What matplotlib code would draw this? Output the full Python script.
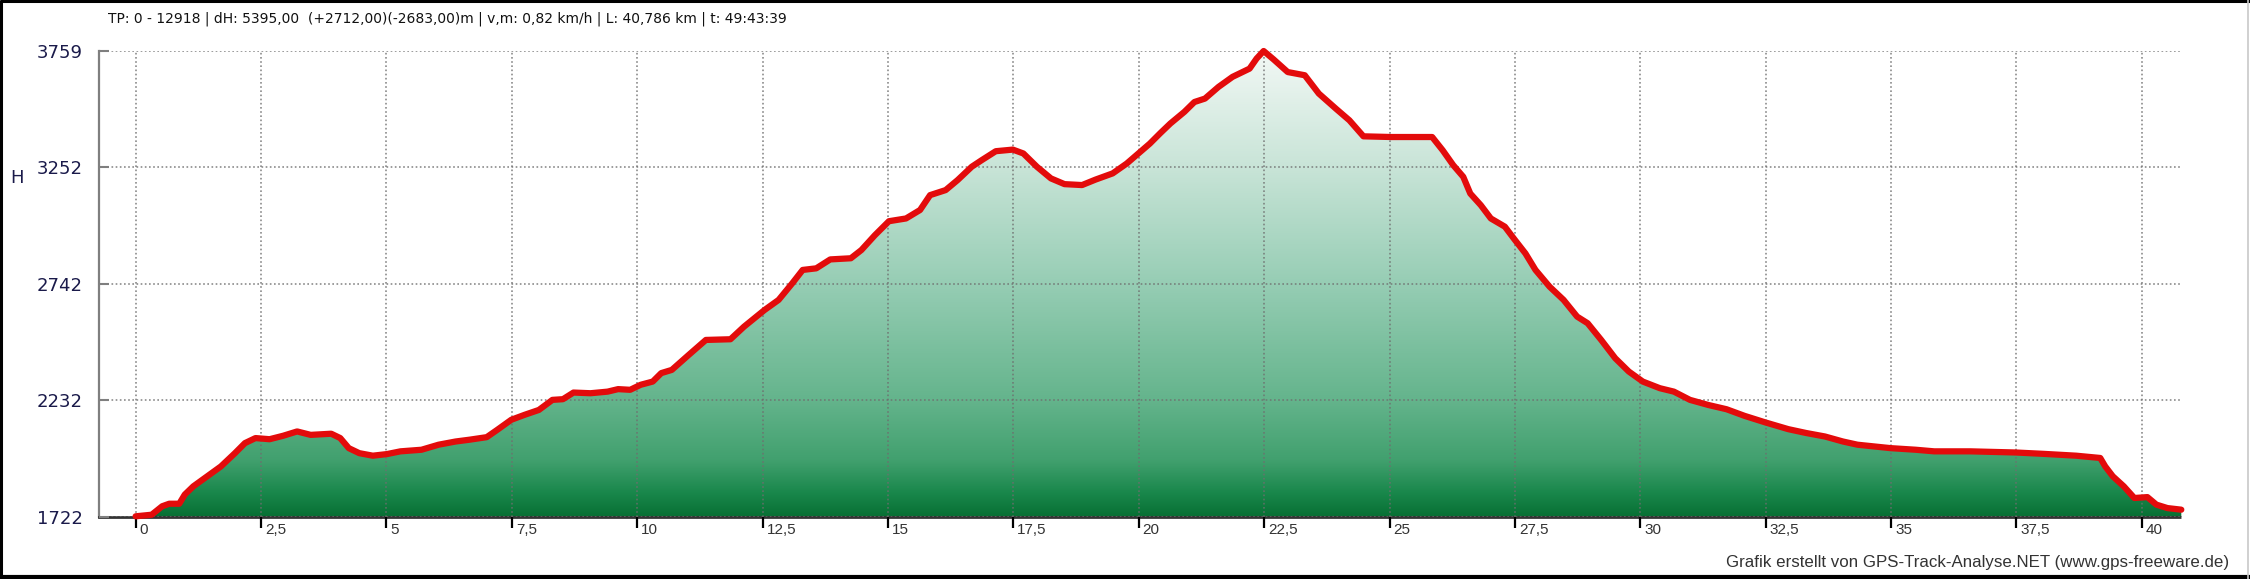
import numpy as np
import matplotlib
matplotlib.use("Agg")
import matplotlib.pyplot as plt
from matplotlib import font_manager as fm
from matplotlib.colors import LinearSegmentedColormap
from matplotlib.transforms import blended_transform_factory, ScaledTranslation
from matplotlib.lines import Line2D

# ---------------- data ----------------
dist_km = [0.0, 0.32, 0.53, 0.67, 0.87, 0.98, 1.15, 1.43, 1.70, 1.98, 2.18, 2.39, 2.67, 2.94,
           3.22, 3.49, 3.90, 4.08, 4.25, 4.46, 4.73, 5.01, 5.28, 5.70, 6.04, 6.38, 6.66, 7.00,
           7.21, 7.49, 7.76, 8.04, 8.31, 8.52, 8.73, 9.07, 9.41, 9.62, 9.86, 10.07, 10.31,
           10.48, 10.69, 11.03, 11.37, 11.86, 12.13, 12.54, 12.82, 13.09, 13.30, 13.57, 13.85,
           14.26, 14.47, 14.74, 15.02, 15.36, 15.64, 15.84, 16.15, 16.39, 16.67, 16.87, 17.15,
           17.49, 17.70, 17.97, 18.25, 18.52, 18.87, 19.14, 19.48, 19.76, 20.03, 20.22, 20.43,
           20.63, 20.91, 21.11, 21.32, 21.59, 21.87, 22.21, 22.35, 22.49, 22.69, 22.97, 23.31,
           23.59, 23.93, 24.20, 24.48, 25.03, 25.85, 26.06, 26.27, 26.47, 26.61, 26.82, 27.02,
           27.30, 27.50, 27.71, 27.91, 28.19, 28.47, 28.74, 28.95, 29.22, 29.50, 29.77, 30.05,
           30.39, 30.67, 30.99, 31.35, 31.72, 32.08, 32.50, 32.95, 33.31, 33.68, 34.04, 34.33,
           34.69, 34.99, 35.49, 35.86, 36.58, 37.48, 38.04, 38.69, 39.17, 39.27, 39.42, 39.64,
           39.85, 40.11, 40.29, 40.51, 40.786]
elev_m = [1725, 1732, 1769, 1780, 1780, 1820, 1856, 1900, 1943, 2001, 2045, 2067, 2062, 2077,
          2096, 2081, 2086, 2067, 2023, 2001, 1990, 1997, 2009, 2016, 2038, 2052, 2060, 2071,
          2103, 2147, 2169, 2190, 2234, 2237, 2266, 2263, 2270, 2281, 2278, 2300, 2314,
          2351, 2365, 2431, 2496, 2499, 2554, 2627, 2671, 2743, 2802, 2809, 2848,
          2853, 2889, 2954, 3015, 3027, 3064, 3129, 3151, 3195, 3253, 3282, 3321,
          3328, 3311, 3253, 3202, 3177, 3173, 3197, 3224, 3267, 3318, 3354, 3400,
          3442, 3493, 3536, 3551, 3602, 3646, 3682, 3726, 3759, 3722, 3667, 3653,
          3573, 3507, 3456, 3386, 3383, 3383, 3325, 3260, 3209, 3136, 3085, 3027,
          2991, 2933, 2874, 2802, 2729, 2671, 2598, 2569, 2496, 2416, 2358, 2314,
          2285, 2270, 2234, 2212, 2193, 2164, 2135, 2106, 2089, 2074, 2052, 2038,
          2030, 2023, 2016, 2009, 2009, 2004, 1998, 1990, 1980, 1943, 1900, 1856,
          1805, 1809, 1776, 1761, 1754]

x_ticks = [0, 2.5, 5, 7.5, 10, 12.5, 15, 17.5, 20, 22.5, 25, 27.5, 30, 32.5, 35, 37.5, 40]
x_tick_labels = ["0", "2,5", "5", "7,5", "10", "12,5", "15", "17,5", "20", "22,5", "25",
                 "27,5", "30", "32,5", "35", "37,5", "40"]
y_ticks = [1722, 2232, 2742, 3252, 3759]
y_tick_labels = ["1722", "2232", "2742", "3252", "3759"]

title = ("TP: 0 - 12918 | dH: 5395,00  (+2712,00)(-2683,00)m | v,m: 0,82 km/h | "
         "L: 40,786 km | t: 49:43:39")
credit = "Grafik erstellt von GPS-Track-Analyse.NET (www.gps-freeware.de)"
y_name = "H"

# ---------------- fonts ----------------
names = {f.name for f in fm.fontManager.ttflist}
narrow = "Liberation Sans Narrow" if "Liberation Sans Narrow" in names else "Liberation Sans"

W, H = 2250, 579
fig = plt.figure(figsize=(W / 100, H / 100), dpi=100)
fig.patch.set_facecolor("white")

ax_left, ax_right, ax_top, ax_bot = 99, 2182, 51, 517
ax = fig.add_axes([ax_left / W, (H - ax_bot) / H, (ax_right - ax_left) / W, (ax_bot - ax_top) / H])
ymin, ymax = y_ticks[0], y_ticks[-1]
ax.set_xlim(-0.73, 40.8)
ax.set_ylim(ymin, ymax)
ax.set_facecolor("white")

# gradient fill
stops = [(0.00, (8, 112, 52)), (0.05, (25, 135, 75)), (0.12, (65, 160, 110)),
         (0.25, (100, 180, 140)), (0.50, (150, 205, 180)), (0.75, (200, 228, 215)),
         (1.00, (242, 248, 245))]
cmap = LinearSegmentedColormap.from_list("grad", [(p, tuple(c / 255 for c in col)) for p, col in stops])
grad = np.linspace(0, 1, 512).reshape(-1, 1)
im = ax.imshow(grad, extent=[dist_km[0], dist_km[-1], ymin, ymax], origin="lower",
               aspect="auto", cmap=cmap, zorder=1, interpolation="bilinear")
poly = ax.fill_between(dist_km, elev_m, ymin, facecolor="none", edgecolor="none", zorder=1)
im.set_clip_path(poly.get_paths()[0], transform=ax.transData)

# grid
ax.set_xticks(x_ticks)
ax.set_xticklabels([""] * len(x_ticks))
ax.set_yticks(y_ticks)
ax.set_yticklabels(y_tick_labels)
ax.grid(True, color="#6e6e6e", linestyle=(0, (1, 1.5)), linewidth=1.2, alpha=0.8, zorder=2)
ax.set_axisbelow(False)

# profile line
ax.plot(dist_km, elev_m, color="#e30b0b", linewidth=4.5, solid_joinstyle="round",
        solid_capstyle="round", zorder=4, clip_on=False)

# spines / ticks
for s in ("top", "right"):
    ax.spines[s].set_visible(False)
ax.spines["left"].set_color("#7f7f7f")
ax.spines["left"].set_linewidth(1.6)
ax.spines["bottom"].set_color("#333333")
ax.spines["bottom"].set_linewidth(2.0)
ax.spines["bottom"].set_linestyle((0, (1, 1)))
ax.tick_params(axis="y", direction="in", length=7, width=1.5, color="#7f7f7f",
               pad=11.5, labelsize=13, labelcolor="#1a1a4a")
ax.tick_params(axis="x", direction="out", length=8, width=1.6, color="black", pad=0)

trans = blended_transform_factory(ax.transData, ax.transAxes) + \
    ScaledTranslation(4 / 100, -6 / 100, fig.dpi_scale_trans)
for xv, lab in zip(x_ticks, x_tick_labels):
    ax.text(xv, 0, lab, transform=trans, ha="left", va="top", fontsize=11,
            family=narrow, color="#333333")

# texts
fig.text(108 / W, 1 - 19 / H, title, ha="left", va="center", fontsize=10.0,
         family="DejaVu Sans", color="#111111")
fig.text(10 / W, 1 - 178 / H, y_name, ha="left", va="center", fontsize=13, color="#1a1a4a")
fig.text(2229 / W, 1 - 562 / H, credit, ha="right", va="center", fontsize=12.2,
         family="Liberation Sans", color="#333333")

# outer frame
def fline(x0, y0, x1, y1, lw, col):
    fig.add_artist(Line2D([x0 / W, x1 / W], [1 - y0 / H, 1 - y1 / H], transform=fig.transFigure,
                          color=col, linewidth=lw, solid_capstyle="butt"))
fline(0, 1, W, 1, 2.2, "black")
fline(1, 0, 1, H, 2.2, "black")
fline(0, H - 2, W, H - 2, 3.0, "black")
fline(W - 2, 0, W - 2, H, 1.2, "#c8c8c8")

fig.savefig("out.png", dpi=100)
